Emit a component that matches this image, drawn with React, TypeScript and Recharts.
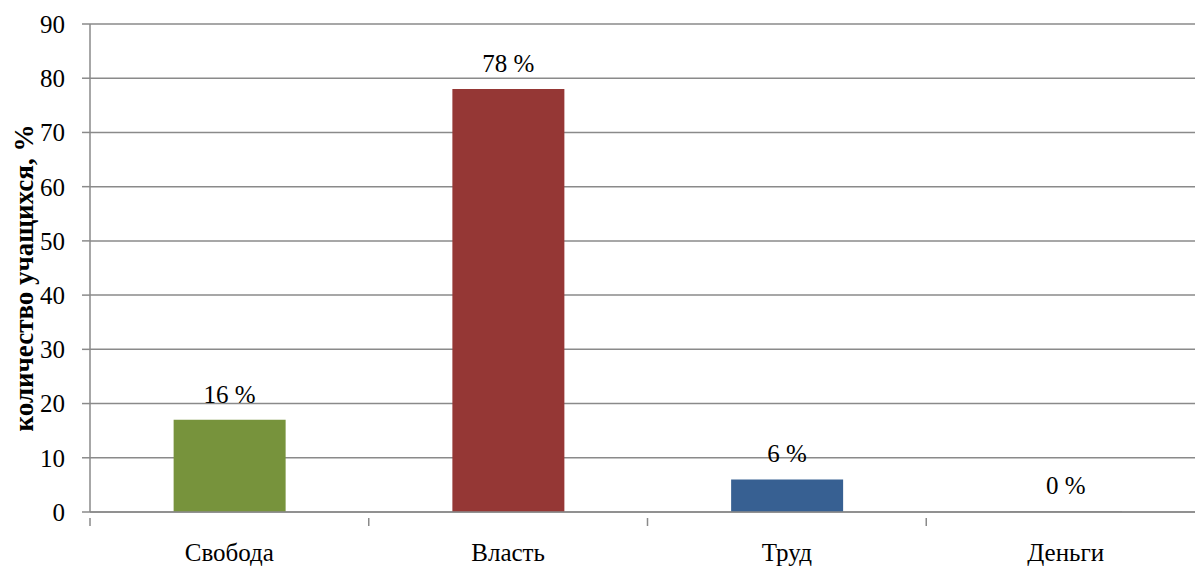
import React from "react";
import { BarChart, Bar, XAxis, YAxis, CartesianGrid, Cell, LabelList, Label } from "recharts";

const categories = ["Свобода", "Власть", "Труд", "Деньги"];
const values = [17, 78, 6, 0];
const valueLabels = ["16 %", "78 %", "6 %", "0 %"];
const barColors = ["#77933C", "#953735", "#376092", "#8a8a8a"];
const yTicks = [0, 10, 20, 30, 40, 50, 60, 70, 80, 90];
const yTitle = "количество учащихся, %";

const data = categories.map((name, i) => ({
  name,
  value: values[i],
  label: valueLabels[i],
}));

const FONT = "Liberation Serif";
const AXIS = "#8a8a8a";
const FS = 25;

// category labels, plus tick marks at the band edges like Excel draws them
function CategoryTick(props: any) {
  const { x, y, payload, index, visibleTicksCount } = props;
  const half = payload?.offset ?? 0;
  const axisY = y - 32;
  return (
    <g>
      <line x1={x - half} x2={x - half} y1={axisY} y2={axisY + 8} stroke={AXIS} strokeWidth={1.5} />
      {index === visibleTicksCount - 1 && (
        <line x1={x + half} x2={x + half} y1={axisY} y2={axisY + 8} stroke={AXIS} strokeWidth={1.5} />
      )}
      <text x={x} y={y} dy={11} textAnchor="middle" fill="#000" fontSize={FS} fontFamily={FONT}>
        {payload.value}
      </text>
    </g>
  );
}

function YTitle(props: any) {
  const vb = props.viewBox;
  const cx = vb.x + 33;
  const cy = vb.y + vb.height / 2 + 10;
  return (
    <text
      x={cx}
      y={cy}
      transform={`rotate(-90, ${cx}, ${cy})`}
      textAnchor="middle"
      fill="#000"
      fontSize={27}
      fontWeight="bold"
      fontFamily={FONT}
    >
      {yTitle}
    </text>
  );
}

export default function App() {
  return (
    <div
      style={{
        position: "absolute",
        left: 0,
        top: 0,
        width: 1195,
        height: 566,
        overflow: "hidden",
        background: "#fff",
        fontFamily: FONT,
      }}
    >
      <BarChart
        width={1205}
        height={566}
        data={data}
        margin={{ top: 24, right: 0, left: 0, bottom: 0 }}
        barCategoryGap="30%"
      >
        <CartesianGrid vertical={false} stroke={AXIS} strokeWidth={1.5} />
        <XAxis
          dataKey="name"
          height={54}
          axisLine={{ stroke: AXIS, strokeWidth: 1.5 }}
          tickLine={false}
          tickMargin={32}
          tick={<CategoryTick />}
          interval={0}
        />
        <YAxis
          domain={[0, 90]}
          ticks={yTicks}
          width={90}
          axisLine={{ stroke: AXIS, strokeWidth: 1.5 }}
          tickLine={{ stroke: AXIS, strokeWidth: 1.5 }}
          tickSize={8}
          tickMargin={17}
          tick={{ fill: "#000", fontSize: FS, fontFamily: FONT }}
        >
          <Label content={<YTitle />} />
        </YAxis>
        <Bar dataKey="value" minPointSize={1} isAnimationActive={false}>
          {data.map((d, i) => (
            <Cell key={d.name} fill={barColors[i]} />
          ))}
          <LabelList dataKey="label" position="top" offset={17} fill="#000" fontSize={FS} fontFamily={FONT} />
        </Bar>
      </BarChart>
    </div>
  );
}
